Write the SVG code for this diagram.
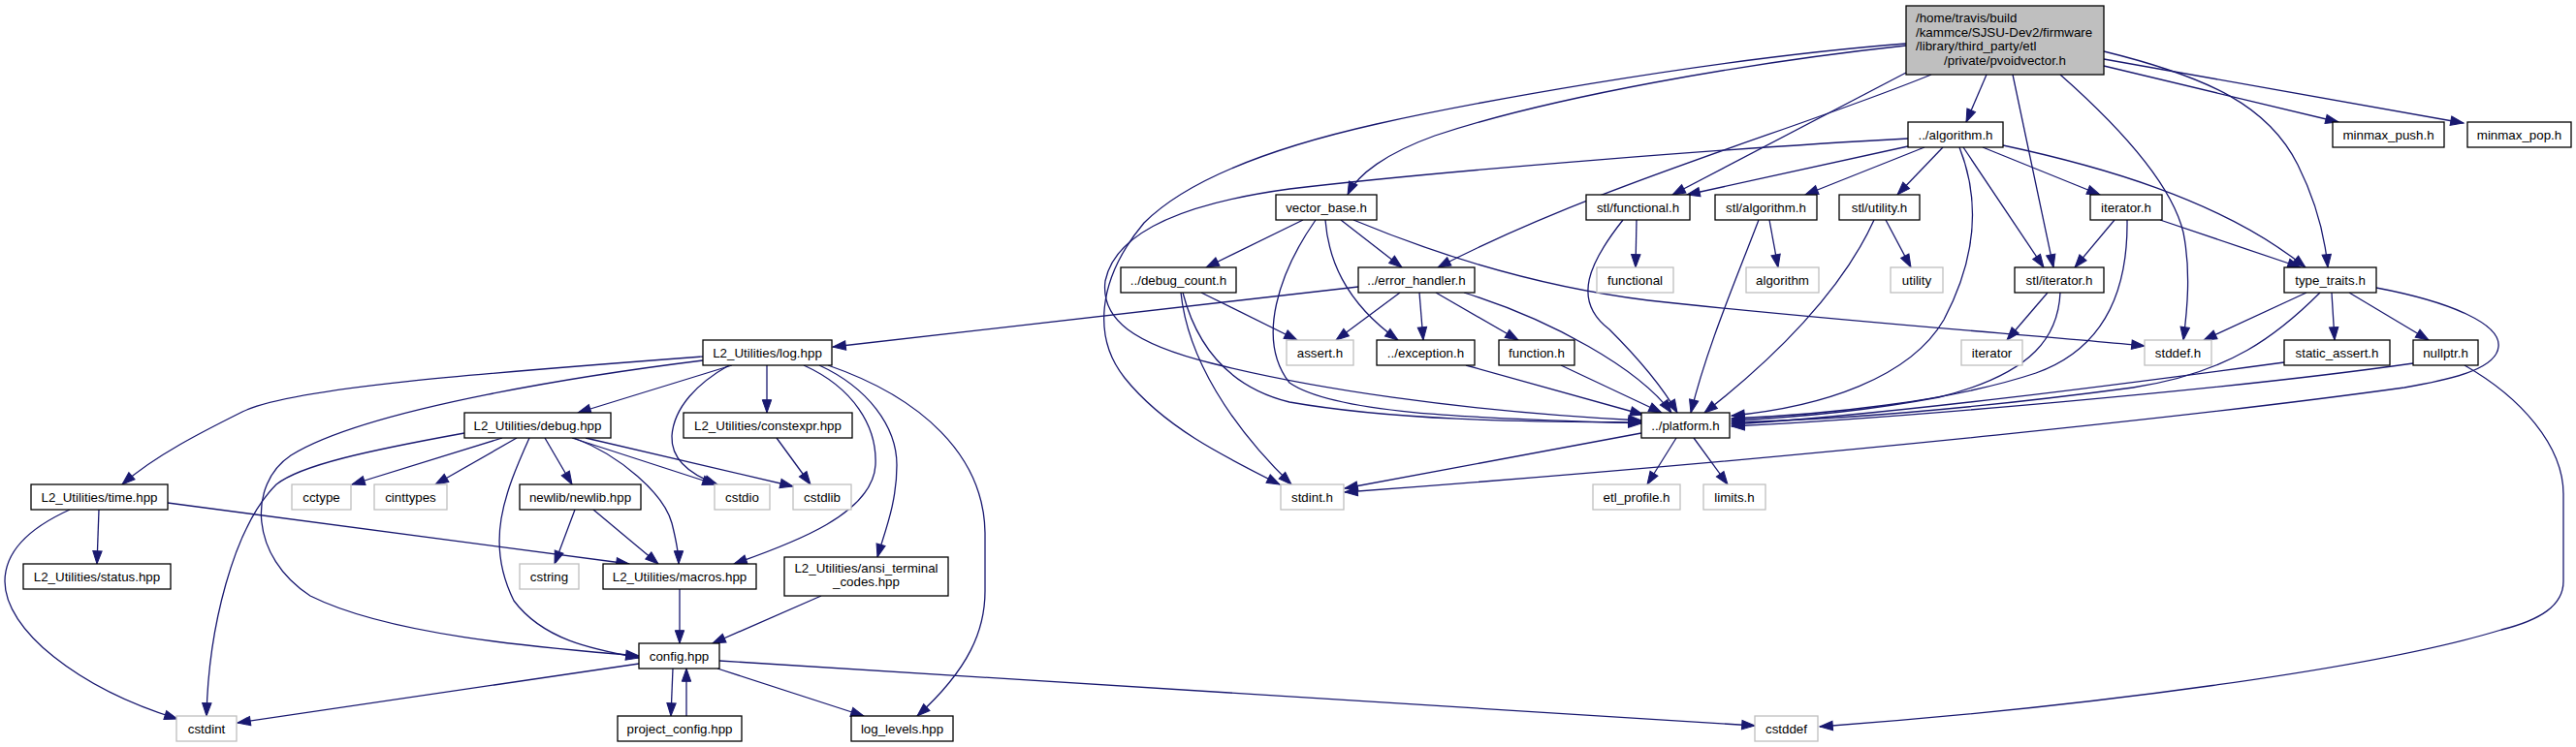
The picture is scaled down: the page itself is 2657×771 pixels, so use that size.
<svg xmlns="http://www.w3.org/2000/svg" width="2657" height="771" viewBox="0 0 2657 771">
<style>
text{font-family:"Liberation Sans",Arial,Helvetica,sans-serif;font-size:13.33px;fill:#000;text-anchor:middle}
.n rect{fill:#fff;stroke:#000;stroke-width:1.3}
.g rect{fill:#fff;stroke:#bfbfbf;stroke-width:1.3}
.root rect{fill:#bfbfbf;stroke:#000;stroke-width:1.3}
#edges path{fill:none;stroke:#191970;stroke-width:1.3;marker-end:url(#ah)}
</style>
<defs>
<marker id="ah" markerWidth="15" markerHeight="11" refX="13.3" refY="5" orient="auto" markerUnits="userSpaceOnUse" overflow="visible">
<path d="M0,0.3 L13.3,5 L0,9.7 Z" fill="#191970" stroke="#191970" stroke-width="1"/>
</marker>
</defs>
<rect width="2657" height="771" fill="#fff"/>
<g id="edges">
<!-- pvoidvector -->
<path d="M2049,77 L2028,126"/>
<path d="M2076,77 L2118,276"/>
<path d="M2125,77 C2185,130 2240,190 2252,240 C2260,280 2256,320 2252,351"/>
<path d="M2170,53 C2280,80 2340,110 2370,170 C2390,210 2398,245 2401,276"/>
<path d="M2170,61 L2541,127"/>
<path d="M2170,68 L2412,126"/>
<path d="M1966,75 L1725,201"/>
<path d="M1992,77 C1850,135 1650,190 1483,276"/>
<path d="M1966,47 C1800,65 1600,100 1480,140 C1430,158 1400,180 1390,201"/>
<path d="M1966,45 C1750,62 1500,110 1420,128 C1300,155 1220,190 1180,230 C1130,290 1128,350 1160,390 C1200,440 1260,470 1320,500"/>
<!-- algorithm.h -->
<path d="M1968,143 C1800,152 1500,175 1330,195 C1220,210 1150,240 1140,290 C1135,330 1170,355 1250,375 C1350,400 1500,424 1693,434"/>
<path d="M1968,151 L1740,201"/>
<path d="M1985,152 L1862,201"/>
<path d="M2004,152 L1957,201"/>
<path d="M2025,152 L2108,276"/>
<path d="M2045,152 L2166,201"/>
<path d="M2066,150 C2160,170 2290,205 2378,276"/>
<path d="M2021,152 C2040,200 2042,260 2005,330 C1970,390 1880,420 1786,429"/>
<!-- vector_base.h -->
<path d="M1344,227 L1244,276"/>
<path d="M1383,227 L1446,276"/>
<path d="M1367,227 C1370,265 1385,310 1442,351"/>
<path d="M1357,227 C1320,280 1295,350 1330,395 C1380,430 1550,432 1693,437"/>
<path d="M1396,227 C1480,262 1580,295 1700,310 C1900,332 2100,346 2212,357"/>
<!-- debug_count.h -->
<path d="M1239,302 L1338,351"/>
<path d="M1218,302 C1225,370 1270,440 1332,500"/>
<path d="M1220,302 C1235,360 1270,400 1330,415 C1450,436 1600,435 1693,436"/>
<!-- error_handler.h -->
<path d="M1401,296 L859,358"/>
<path d="M1444,302 L1378,351"/>
<path d="M1464,302 L1468,351"/>
<path d="M1481,302 L1566,351"/>
<path d="M1510,302 C1600,330 1690,380 1724,426"/>
<path d="M1512,377 L1695,428"/>
<path d="M1610,377 L1714,426"/>
<!-- stl headers -->
<path d="M1688,227 L1687,276"/>
<path d="M1674,227 C1640,270 1620,310 1660,340 C1690,370 1715,400 1730,426"/>
<path d="M1825,227 L1834,276"/>
<path d="M1814,227 C1790,290 1760,360 1744,426"/>
<path d="M1945,227 L1971,276"/>
<path d="M1933,227 C1900,300 1830,370 1758,426"/>
<path d="M2181,227 L2140,276"/>
<path d="M2194,227 C2195,300 2170,360 2100,385 C2010,415 1880,428 1786,432"/>
<path d="M2228,227 L2373,276"/>
<path d="M2112,302 L2070,351"/>
<path d="M2125,302 C2123,345 2100,385 2000,410 C1920,425 1850,431 1786,434"/>
<!-- type_traits.h -->
<path d="M2379,302 L2273,351"/>
<path d="M2405,302 L2408,351"/>
<path d="M2423,302 L2505,351"/>
<path d="M2393,302 C2350,345 2300,385 2200,400 C2050,420 1900,433 1786,436"/>
<path d="M2451,297 C2530,312 2580,335 2577,358 C2575,378 2540,390 2480,400 C2300,425 1900,470 1387,508"/>
<path d="M2356,374 C2200,395 1950,428 1786,438"/>
<path d="M2489,375 C2300,402 1950,432 1786,440"/>
<path d="M2542,377 C2600,410 2644,460 2644,510 L2644,600 C2644,625 2620,640 2580,650 C2450,690 2150,730 1877,750"/>
<!-- platform.h -->
<path d="M1693,447 L1387,504"/>
<path d="M1729,452 L1699,500"/>
<path d="M1747,452 L1782,500"/>
<!-- log.hpp -->
<path d="M755,377 L596,426"/>
<path d="M752,377 C720,395 695,420 693,450 C692,475 712,490 740,500"/>
<path d="M791,377 L791,426"/>
<path d="M829,377 C880,400 905,440 903,480 C900,530 820,560 757,582"/>
<path d="M845,377 C895,400 925,440 925,480 C925,520 912,550 905,575"/>
<path d="M854,377 C950,410 1015,470 1016,550 L1016,610 C1016,650 1000,690 946,739"/>
<path d="M725,368 C500,385 300,400 250,425 C210,445 160,470 126,500"/>
<path d="M725,372 C620,385 380,420 300,470 C255,500 258,575 320,615 C400,655 550,668 659,677"/>
<!-- debug.hpp -->
<path d="M518,452 L363,500"/>
<path d="M533,452 L449,500"/>
<path d="M562,452 L590,500"/>
<path d="M479,447 C380,465 310,480 285,500 C240,545 215,650 213,739"/>
<path d="M546,452 C520,510 500,560 530,620 C560,660 610,670 659,679"/>
<path d="M590,452 L738,500"/>
<path d="M604,452 L818,502"/>
<path d="M592,452 C640,470 685,510 693,540 C698,560 700,570 700,582"/>
<path d="M801,452 L836,500"/>
<!-- newlib / time -->
<path d="M593,526 L572,582"/>
<path d="M612,526 L679,582"/>
<path d="M173,519 L649,582"/>
<path d="M102,526 L100,582"/>
<path d="M72,526 C30,545 5,570 5,600 C5,650 80,710 183,742"/>
<!-- macros / ansi / config -->
<path d="M701,608 L701,664"/>
<path d="M847,615 L735,664"/>
<path d="M659,685 L245,746"/>
<path d="M694,690 L692,739"/>
<path d="M708,739 L708,690"/>
<path d="M740,690 L891,739"/>
<path d="M742,682 L1810,749"/>
</g>
<g id="n_pvoidvector" class="root"><rect x="1966" y="6" width="204" height="71"/>
<text x="1976" y="23" style="text-anchor:start">/home/travis/build</text>
<text x="1976" y="37.5" style="text-anchor:start">/kammce/SJSU-Dev2/firmware</text>
<text x="1976" y="52" style="text-anchor:start">/library/third_party/etl</text>
<text x="2068" y="66.5">/private/pvoidvector.h</text></g>
<g id="n_algorithm_h" class="n"><rect x="1968" y="126" width="98" height="26"/><text x="2017" y="143.5">../algorithm.h</text></g>
<g id="n_minmax_push" class="n"><rect x="2406" y="126" width="115" height="26"/><text x="2463.5" y="143.5">minmax_push.h</text></g>
<g id="n_minmax_pop" class="n"><rect x="2545" y="126" width="107" height="26"/><text x="2598.5" y="143.5">minmax_pop.h</text></g>
<g id="n_vector_base" class="n"><rect x="1316" y="201" width="104" height="26"/><text x="1368" y="218.5">vector_base.h</text></g>
<g id="n_stl_functional" class="n"><rect x="1636" y="201" width="107" height="26"/><text x="1689.5" y="218.5">stl/functional.h</text></g>
<g id="n_stl_algorithm" class="n"><rect x="1769" y="201" width="105" height="26"/><text x="1821.5" y="218.5">stl/algorithm.h</text></g>
<g id="n_stl_utility" class="n"><rect x="1897" y="201" width="83" height="26"/><text x="1938.5" y="218.5">stl/utility.h</text></g>
<g id="n_iterator_h" class="n"><rect x="2156" y="201" width="74" height="26"/><text x="2193" y="218.5">iterator.h</text></g>
<g id="n_debug_count" class="n"><rect x="1156" y="276" width="119" height="26"/><text x="1215.5" y="293.5">../debug_count.h</text></g>
<g id="n_error_handler" class="n"><rect x="1401" y="276" width="120" height="26"/><text x="1461" y="293.5">../error_handler.h</text></g>
<g id="n_functional" class="g"><rect x="1647" y="276" width="79" height="26"/><text x="1686.5" y="293.5">functional</text></g>
<g id="n_algorithm" class="g"><rect x="1801" y="276" width="75" height="26"/><text x="1838.5" y="293.5">algorithm</text></g>
<g id="n_utility" class="g"><rect x="1950" y="276" width="54" height="26"/><text x="1977" y="293.5">utility</text></g>
<g id="n_stl_iterator" class="n"><rect x="2078" y="276" width="92" height="26"/><text x="2124" y="293.5">stl/iterator.h</text></g>
<g id="n_type_traits" class="n"><rect x="2356" y="276" width="95" height="26"/><text x="2403.5" y="293.5">type_traits.h</text></g>
<g id="n_log" class="n"><rect x="725" y="351" width="133" height="26"/><text x="791.5" y="368.5">L2_Utilities/log.hpp</text></g>
<g id="n_assert" class="g"><rect x="1327" y="351" width="69" height="26"/><text x="1361.5" y="368.5">assert.h</text></g>
<g id="n_exception" class="n"><rect x="1420" y="351" width="101" height="26"/><text x="1470.5" y="368.5">../exception.h</text></g>
<g id="n_function" class="n"><rect x="1546" y="351" width="78" height="26"/><text x="1585" y="368.5">function.h</text></g>
<g id="n_iterator" class="g"><rect x="2023" y="351" width="63" height="26"/><text x="2054.5" y="368.5">iterator</text></g>
<g id="n_stddef" class="g"><rect x="2212" y="351" width="69" height="26"/><text x="2246.5" y="368.5">stddef.h</text></g>
<g id="n_static_assert" class="n"><rect x="2356" y="351" width="109" height="26"/><text x="2410.5" y="368.5">static_assert.h</text></g>
<g id="n_nullptr" class="n"><rect x="2489" y="351" width="67" height="26"/><text x="2522.5" y="368.5">nullptr.h</text></g>
<g id="n_debug" class="n"><rect x="479" y="426" width="151" height="26"/><text x="554.5" y="443.5">L2_Utilities/debug.hpp</text></g>
<g id="n_constexpr" class="n"><rect x="705" y="426" width="174" height="26"/><text x="792" y="443.5">L2_Utilities/constexpr.hpp</text></g>
<g id="n_platform" class="n"><rect x="1693" y="426" width="91" height="26"/><text x="1738.5" y="443.5">../platform.h</text></g>
<g id="n_time" class="n"><rect x="32" y="500" width="141" height="26"/><text x="102.5" y="517.5">L2_Utilities/time.hpp</text></g>
<g id="n_cctype" class="g"><rect x="301" y="500" width="61" height="26"/><text x="331.5" y="517.5">cctype</text></g>
<g id="n_cinttypes" class="g"><rect x="386" y="500" width="75" height="26"/><text x="423.5" y="517.5">cinttypes</text></g>
<g id="n_newlib" class="n"><rect x="536" y="500" width="125" height="26"/><text x="598.5" y="517.5">newlib/newlib.hpp</text></g>
<g id="n_cstdio" class="g"><rect x="737" y="500" width="57" height="26"/><text x="765.5" y="517.5">cstdio</text></g>
<g id="n_cstdlib" class="g"><rect x="818" y="500" width="60" height="26"/><text x="848" y="517.5">cstdlib</text></g>
<g id="n_stdint" class="g"><rect x="1321" y="500" width="65" height="26"/><text x="1353.5" y="517.5">stdint.h</text></g>
<g id="n_etl_profile" class="g"><rect x="1643" y="500" width="90" height="26"/><text x="1688" y="517.5">etl_profile.h</text></g>
<g id="n_limits" class="g"><rect x="1757" y="500" width="64" height="26"/><text x="1789" y="517.5">limits.h</text></g>
<g id="n_status" class="n"><rect x="24" y="582" width="152" height="26"/><text x="100" y="599.5">L2_Utilities/status.hpp</text></g>
<g id="n_cstring" class="g"><rect x="536" y="582" width="61" height="26"/><text x="566.5" y="599.5">cstring</text></g>
<g id="n_macros" class="n"><rect x="622" y="582" width="158" height="26"/><text x="701" y="599.5">L2_Utilities/macros.hpp</text></g>
<g id="n_ansi" class="n"><rect x="809" y="575" width="169" height="40"/><text x="893.5" y="591">L2_Utilities/ansi_terminal</text><text x="893.5" y="605">_codes.hpp</text></g>
<g id="n_config" class="n"><rect x="659" y="664" width="83" height="26"/><text x="700.5" y="681.5">config.hpp</text></g>
<g id="n_cstdint" class="g"><rect x="182" y="739" width="62" height="26"/><text x="213" y="756.5">cstdint</text></g>
<g id="n_project_config" class="n"><rect x="637" y="739" width="128" height="26"/><text x="701" y="756.5">project_config.hpp</text></g>
<g id="n_log_levels" class="n"><rect x="878" y="739" width="105" height="26"/><text x="930.5" y="756.5">log_levels.hpp</text></g>
<g id="n_cstddef" class="g"><rect x="1810" y="739" width="65" height="26"/><text x="1842.5" y="756.5">cstddef</text></g>
</svg>
